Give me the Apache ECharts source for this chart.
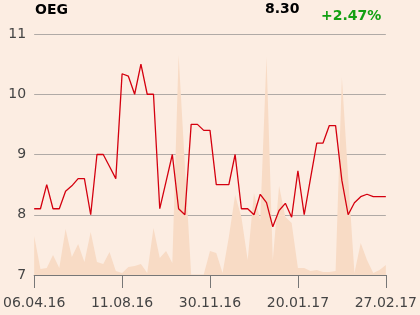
<!DOCTYPE html>
<html>
<head>
<meta charset="utf-8">
<script src="https://cdn.jsdelivr.net/npm/echarts@6/dist/echarts.min.js"></script>
<style>
html,body{margin:0;padding:0;background:#fcede2;}
#c{width:420px;height:315px;}
</style>
</head>
<body>
<div id="c"></div>
<script>
var tickLabels = ['06.04.16', '11.08.16', '30.11.16', '20.01.17', '27.02.17'];
var prices = [8.1, 8.1, 8.5, 8.1, 8.1, 8.39, 8.48, 8.6, 8.6, 8.0,
  9.0, 9.0, 8.8, 8.6, 10.34, 10.3, 10.0, 10.5, 10.0, 10.0,
  8.1, 8.55, 9.0, 8.1, 8.0, 9.5, 9.5, 9.4, 9.4, 8.5,
  8.5, 8.5, 9.0, 8.1, 8.1, 8.0, 8.34, 8.2, 7.8, 8.07,
  8.19, 7.96, 8.73, 8.0, 8.6, 9.19, 9.19, 9.48, 9.48, 8.57,
  8.0, 8.2, 8.3, 8.34, 8.3, 8.3, 8.3];
var volumes = [39, 6, 7, 20, 7, 46, 18, 31, 13, 43,
  13, 11, 23, 4, 2, 8, 9, 11, 2, 47,
  17, 24, 12, 220, 110, 0.5, 0.5, 0.5, 24, 22,
  2, 38, 80, 58, 15, 82, 55, 218, 15, 89,
  58, 52, 7, 7, 4, 5, 3, 3, 4, 198,
  98, 2, 32, 15, 2, 5, 10];
var ticker = 'OEG';
var lastPrice = '8.30';
var change = '+2.47%';

var priceData = prices.map(function (v, i) { return [i, v]; });
var volData = volumes.map(function (v, i) { return [i, v]; });
var step = (prices.length - 1) / (tickLabels.length - 1);

var chart = echarts.init(document.getElementById('c'), null, {renderer: 'canvas'});
chart.setOption({
  backgroundColor: '#fcede2',
  animation: false,
  grid: {left: 34, right: 33, top: 34, bottom: 40},
  graphic: [
    {type: 'text', left: 35, top: 3, style: {text: ticker, font: 'bold 14px "DejaVu Sans"', fill: '#000'}},
    {type: 'text', left: 265, top: 2, style: {text: lastPrice, font: 'bold 14px "DejaVu Sans"', fill: '#000'}},
    {type: 'text', left: 321, top: 9, style: {text: change, font: 'bold 14px "DejaVu Sans"', fill: '#12a012'}}
  ],
  xAxis: {
    type: 'value', min: 0, max: prices.length - 1, interval: step,
    axisLine: {show: true, onZero: false, lineStyle: {color: '#777', width: 1}},
    axisTick: {show: true, length: 13, lineStyle: {color: '#777'}},
    splitLine: {show: false},
    axisLabel: {
      color: '#444', fontSize: 14, fontFamily: 'DejaVu Sans', margin: 21,
      formatter: function (v) { return tickLabels[Math.round(v / step)] || ''; }
    }
  },
  yAxis: [{
    type: 'value', min: 7, max: 11, interval: 1,
    axisLine: {show: false}, axisTick: {show: false},
    splitLine: {show: true, lineStyle: {color: '#b0aaa6', width: 1}},
    axisLabel: {color: '#444', fontSize: 14, fontFamily: 'DejaVu Sans', margin: 8}
  }, {
    type: 'value', min: 0, max: 241, show: false,
    splitLine: {show: false}
  }],
  series: [{
    type: 'line', yAxisIndex: 1, data: volData, showSymbol: false,
    lineStyle: {width: 0}, areaStyle: {color: '#f8dbc5', opacity: 1}, z: 1
  }, {
    type: 'line', yAxisIndex: 0, data: priceData, showSymbol: false,
    lineStyle: {color: '#d4000f', width: 1.3}, z: 3
  }]
});
</script>
</body>
</html>
